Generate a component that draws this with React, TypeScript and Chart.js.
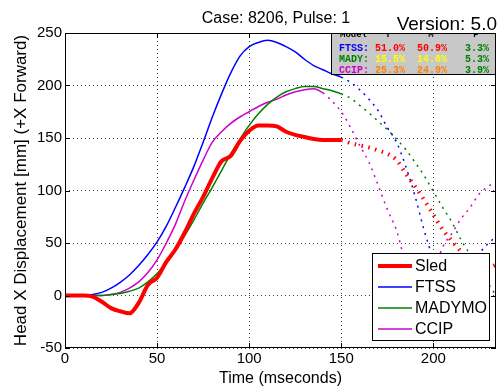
import React, { useEffect, useRef } from 'react';
import { Chart, registerables } from 'chart.js';

Chart.register(...registerables);

const TIME = [0, 5, 10, 15, 20, 25, 30, 35, 40, 45, 50, 55, 60, 65, 70, 75, 80, 85, 90, 95, 100, 105, 110, 115, 120, 125, 130, 135, 140, 145, 150, 155, 160, 165, 170, 175, 180, 185, 190, 195, 200, 205, 210, 215, 220, 225, 230, 235];
const SLED = [0, 0, 0, -1, -6, -12, -15, -17, -7, 10, 17, 32, 44, 60, 78, 94, 112, 128, 133, 147, 157, 162, 162, 161, 156, 153, 151, 149, 148, 148, 148, 145, 143, 141, 138, 135, 129, 116, 104, 91, 77, 63, 52, 42, 33, 27, 27, 30];
const FTSS = [0, 0, 0, 1, 3, 7, 12.5, 19.5, 28.5, 39, 51, 66, 84, 103, 123, 146, 170, 192, 212, 228, 237, 241, 243, 241, 237, 232, 225, 219, 215, 211, 208, 203, 196, 187, 176, 160, 146, 123, 95, 62, 35, 18, 12, 14, 26, 40, 50, 57];
const MADYMO = [0, 0, 0, 0, 0, 1, 2, 4, 7, 13, 21, 31, 43, 57, 72, 88, 103, 119, 135, 149, 162, 173, 182, 189, 194, 197, 199, 199, 197, 195, 192, 188, 181, 174, 166, 158, 149, 139, 127, 114, 99, 84, 70, 53, 39, 26, 11, -3];
const CCIP = [0, 0, 0, 0, 0, 1, 3, 7, 13, 22, 34, 50, 68, 90, 110, 129, 146, 156, 164, 170, 175, 180, 184, 187, 191, 194, 196, 197, 193, 185, 175, 160, 143, 127, 105, 82, 62, 30, 8, 2, 22, 46, 59, 73, 84, 97, 104, 110];

const SERIES_NAMES = ['Sled', 'FTSS', 'MADYMO', 'CCIP'];
const SERIES_COLORS = ['#ff0000', '#0000ff', '#008000', '#cc00cc'];
const SERIES_WIDTHS = [4, 1.5, 1.5, 1.5];
const SERIES_DASH = [[1.5, 5.5], [2, 5], [2, 5], [2, 5]];
const SOLID_END = [150, 150, 150, 140];

const X_TICKS = [0, 50, 100, 150, 200];
const Y_TICKS = [-50, 0, 50, 100, 150, 200, 250];

const TITLE = 'Case: 8206, Pulse: 1';
const VERSION = 'Version: 5.0';
const X_TITLE = 'Time (mseconds)';
const Y_TITLE = 'Head X Displacement [mm] (+X Forward)';

const TABLE_HEADER = ['Model', 'T', 'M', 'P'];
const TABLE_MODELS = ['FTSS:', 'MADY:', 'CCIP:'];
const TABLE_T = ['51.0%', '15.5%', '25.3%'];
const TABLE_M = ['50.9%', '14.6%', '24.9%'];
const TABLE_P = ['3.3%', '5.3%', '3.9%'];
const TABLE_MODEL_COLORS = ['#0000ff', '#008000', '#cc00cc'];
const TABLE_VALUE_COLORS = ['#ff0000', '#ffff00', '#ff8000'];
const TABLE_P_COLOR = '#008000';

const SANS = "'Liberation Sans', Arial, sans-serif";
const MONO = "'Liberation Mono', 'Courier New', monospace";

const overlay = {
  id: 'overlay',
  afterDraw(chart: any) {
    const { ctx, chartArea: a, scales } = chart;
    ctx.save();
    ctx.strokeStyle = '#000';
    ctx.lineWidth = 1;
    ctx.setLineDash([]);
    const seg = (x1: number, y1: number, x2: number, y2: number) => {
      ctx.beginPath();
      ctx.moveTo(x1, y1);
      ctx.lineTo(x2, y2);
      ctx.stroke();
    };
    X_TICKS.forEach((v) => {
      const x = Math.round(scales.x.getPixelForValue(v)) + 0.5;
      seg(x, a.bottom, x, a.bottom - 5);
      seg(x, a.top, x, a.top + 5);
    });
    Y_TICKS.forEach((v) => {
      const y = Math.round(scales.y.getPixelForValue(v)) + 0.5;
      seg(a.left, y, a.left + 5, y);
      seg(a.right, y, a.right - 5, y);
    });
    ctx.strokeRect(a.left + 0.5, a.top + 0.5, a.right - a.left - 1, a.bottom - a.top - 1);

    // titles
    ctx.fillStyle = '#000';
    ctx.textBaseline = 'alphabetic';
    ctx.font = `16px ${SANS}`;
    ctx.textAlign = 'center';
    ctx.fillText(TITLE, 276, 22.5);
    ctx.font = `19px ${SANS}`;
    ctx.textAlign = 'right';
    ctx.fillText(VERSION, 497, 30);

    // statistics table
    const bx = 331, by = 33, bw = a.right - 331, bh = 42;
    ctx.fillStyle = '#c8c8c8';
    ctx.fillRect(bx, by, bw, bh);
    ctx.strokeStyle = '#000';
    ctx.strokeRect(bx + 0.5, by + 0.5, bw - 1, bh - 1);
    ctx.save();
    ctx.beginPath();
    ctx.rect(bx + 1, by + 1, bw - 2, bh - 2);
    ctx.clip();
    ctx.font = `bold 9px ${MONO}`;
    ctx.fillStyle = '#000';
    ctx.textAlign = 'left';
    ctx.fillText(TABLE_HEADER[0], 340, 37);
    ctx.textAlign = 'center';
    ctx.fillText(TABLE_HEADER[1], 388, 37);
    ctx.fillText(TABLE_HEADER[2], 431, 37);
    ctx.fillText(TABLE_HEADER[3], 476, 37);
    ctx.restore();
    ctx.font = `bold 10px ${MONO}`;
    ctx.textAlign = 'left';
    const rowY = [50.5, 62, 73];
    TABLE_MODELS.forEach((m, i) => {
      ctx.fillStyle = TABLE_MODEL_COLORS[i];
      ctx.fillText(m, 339, rowY[i]);
      ctx.fillStyle = TABLE_VALUE_COLORS[i];
      ctx.fillText(TABLE_T[i], 375, rowY[i]);
      ctx.fillText(TABLE_M[i], 417, rowY[i]);
      ctx.fillStyle = TABLE_P_COLOR;
      ctx.fillText(TABLE_P[i], 465, rowY[i]);
    });

    // legend
    const lx = 372, ly = 253, lw = 118, lh = 88;
    ctx.fillStyle = '#fff';
    ctx.fillRect(lx, ly, lw, lh);
    ctx.strokeStyle = '#000';
    ctx.strokeRect(lx + 0.5, ly + 0.5, lw - 1, lh - 1);
    ctx.font = `16px ${SANS}`;
    ctx.textBaseline = 'middle';
    ctx.textAlign = 'left';
    chart.data.datasets.forEach((ds: any, i: number) => {
      const y = 266 + i * 21;
      ctx.strokeStyle = ds.borderColor;
      ctx.lineWidth = ds.borderWidth;
      seg(378, y, 412, y);
      ctx.fillStyle = '#000';
      ctx.fillText(ds.label, 415, y + 1);
    });
    ctx.restore();
  },
};

export default function App() {
  const ref = useRef<HTMLCanvasElement>(null);
  useEffect(() => {
    if (!ref.current) return;
    Chart.defaults.color = '#000';
    Chart.defaults.font.family = SANS;
    const series = [SLED, FTSS, MADYMO, CCIP];
    const datasets = series.map((vals, i) => ({
      label: SERIES_NAMES[i],
      data: TIME.map((t, j) => ({ x: t, y: vals[j] })),
      borderColor: SERIES_COLORS[i],
      backgroundColor: SERIES_COLORS[i],
      borderWidth: SERIES_WIDTHS[i],
      pointRadius: 0,
      fill: false,
      cubicInterpolationMode: 'monotone' as const,
      segment: {
        borderDash: (c: any) => (c.p0.parsed.x >= SOLID_END[i] ? SERIES_DASH[i] : undefined),
      },
    }));
    const chart = new Chart(ref.current, {
      type: 'line',
      data: { datasets },
      options: {
        animation: false,
        responsive: false,
        devicePixelRatio: 1,
        layout: { padding: { top: 33, right: 4, left: 0, bottom: 0 } },
        plugins: { legend: { display: false }, tooltip: { enabled: false }, title: { display: false } },
        scales: {
          x: {
            type: 'linear',
            min: 0,
            max: 234,
            afterFit: (s: any) => { s.height = 43; },
            ticks: { stepSize: 50, includeBounds: false, maxRotation: 0, autoSkip: false, padding: 2, font: { size: 15, family: SANS }, color: '#000' },
            grid: { drawTicks: false, color: 'rgba(0,0,0,0.75)', lineWidth: 1 },
            border: { display: false, dash: [1, 3] },
            title: { display: true, text: X_TITLE, font: { size: 16, family: SANS }, color: '#000', padding: { top: 0, bottom: 3 } },
          },
          y: {
            type: 'linear',
            min: -50,
            max: 250,
            afterFit: (s: any) => { s.width = 65; },
            ticks: { stepSize: 50, includeBounds: false, padding: 3, font: { size: 15, family: SANS }, color: '#000' },
            grid: { drawTicks: false, color: 'rgba(0,0,0,0.75)', lineWidth: 1 },
            border: { display: false, dash: [1, 3] },
            title: { display: true, text: Y_TITLE, font: { size: 17, family: SANS }, color: '#000', padding: { top: 11, bottom: 0 } },
          },
        },
      },
      plugins: [overlay],
    } as any);
    return () => chart.destroy();
  }, []);
  return (
    <div style={{ position: 'absolute', left: 0, top: 0, width: 500, height: 391, background: '#fff' }}>
      <canvas ref={ref} width={500} height={391} style={{ display: 'block' }} />
    </div>
  );
}
